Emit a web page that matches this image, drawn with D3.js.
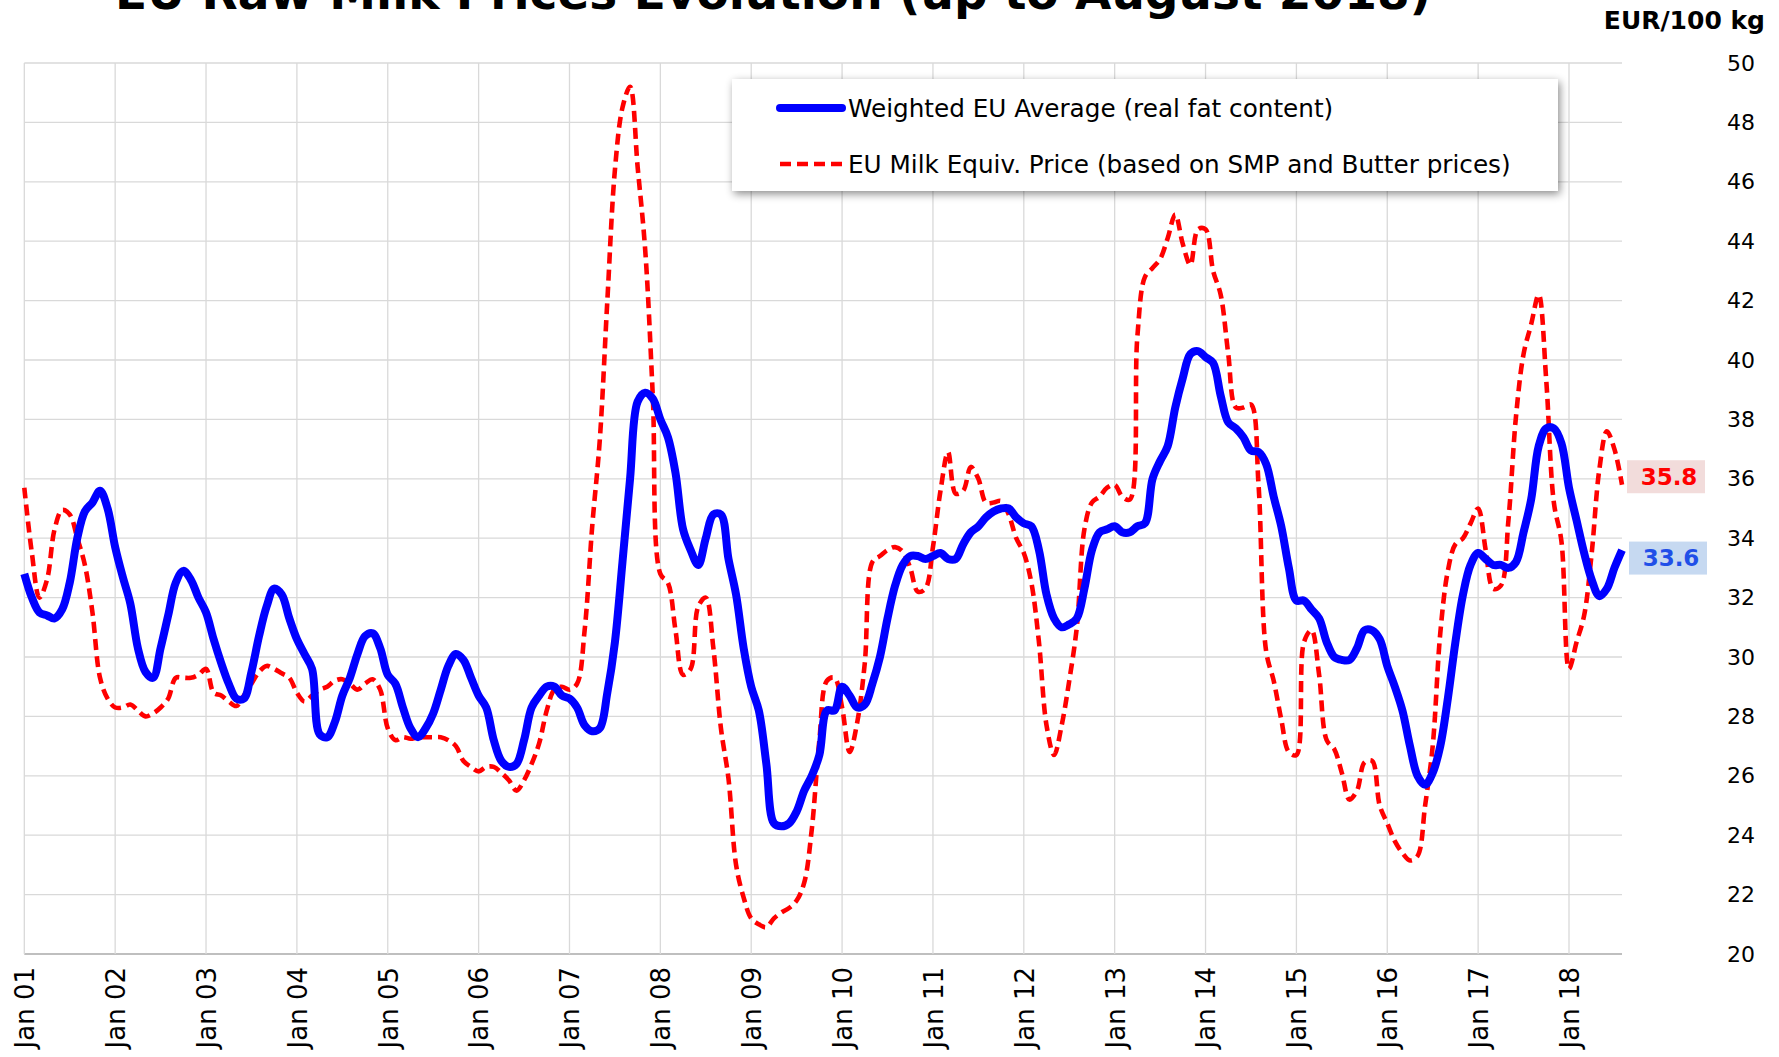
<!DOCTYPE html>
<html>
<head>
<meta charset="utf-8">
<script src="https://cdn.jsdelivr.net/npm/d3@7/dist/d3.min.js"></script>
<style>
  body { margin: 0; background: #fff; }
  text { font-family: "DejaVu Sans", Verdana, sans-serif; }
</style>
</head>
<body>
<svg id="chart" width="1779" height="1057"></svg>
<script>
// monthly values, Jan 2001 .. Aug 2018 (EUR/100 kg)
var weightedAvg = [
  32.8, 32.0, 31.5, 31.4, 31.3, 31.6, 32.5, 34.0, 34.9, 35.2, 35.6, 35.0,
  33.7, 32.7, 31.8, 30.3, 29.5, 29.3, 30.3, 31.4, 32.5, 32.9, 32.6, 32.0,
  31.5, 30.6, 29.8, 29.1, 28.6, 28.6, 29.5, 30.7, 31.7, 32.3, 32.1, 31.3,
  30.6, 30.1, 29.6, 27.4, 27.3, 27.8, 28.7, 29.3, 30.1, 30.7, 30.8, 30.3,
  29.4, 29.1, 28.3, 27.6, 27.3, 27.6, 28.1, 28.9, 29.7, 30.1, 29.9, 29.3,
  28.7, 28.3, 27.2, 26.5, 26.3, 26.4, 27.2, 28.3, 28.7, 29.0, 29.0, 28.7,
  28.6, 28.3, 27.7, 27.5, 27.6, 28.8, 30.5, 33.2, 36.0, 38.6, 38.9, 38.7,
  38.0, 37.4, 36.2, 34.3, 33.6, 33.1, 34.0, 34.8, 34.8, 33.3, 32.1, 30.3,
  29.0, 28.2, 26.4, 24.4, 24.3, 24.4, 24.8, 25.5, 26.0, 26.7, 28.2, 28.2,
  29.0, 28.7, 28.3, 28.4, 29.1, 30.0, 31.3, 32.4, 33.1, 33.4, 33.4, 33.3,
  33.4, 33.5, 33.3, 33.3, 33.8, 34.2, 34.4, 34.7, 34.9, 35.0, 35.0, 34.7,
  34.5, 34.4, 33.6, 32.1, 31.3, 31.0, 31.1, 31.3, 32.3, 33.6, 34.2, 34.3,
  34.4, 34.2, 34.2, 34.4, 34.5, 36.0, 36.6, 37.1, 38.4, 39.4, 40.2, 40.3,
  40.1, 39.9, 38.8, 37.9, 37.7, 37.4, 36.95, 36.9, 36.5, 35.4, 34.4, 33.0,
  31.9, 31.9, 31.6, 31.3, 30.5, 30.0, 29.9, 29.9, 30.3, 30.9, 30.9, 30.6,
  29.7, 29.0, 28.2, 27.0, 26.0, 25.7, 26.1, 27.0, 28.6, 30.5, 32.1, 33.1,
  33.5, 33.3, 33.1, 33.1, 33.0, 33.2, 34.2, 35.3, 37.1, 37.7, 37.7, 37.2,
  35.7, 34.6, 33.5, 32.6, 32.05, 32.3, 33.0, 33.6
];

var milkEquiv = [
  35.7, 33.5, 32.0, 32.6, 34.3, 34.95, 34.8, 34.0, 33.1, 31.5, 29.3, 28.6,
  28.3, 28.3, 28.4, 28.2, 28.0, 28.1, 28.3, 28.6, 29.3, 29.3, 29.3, 29.4,
  29.6, 28.8, 28.7, 28.5, 28.35, 28.7, 29.1, 29.5, 29.7, 29.6, 29.45, 29.3,
  28.8, 28.5, 28.7, 28.9, 29.0, 29.2, 29.25, 29.1, 28.9, 29.1, 29.25, 28.9,
  27.6, 27.2, 27.3, 27.25, 27.3, 27.3, 27.3, 27.3, 27.2, 27.0, 26.5, 26.3,
  26.15, 26.3, 26.3, 26.1, 25.85, 25.5, 25.85, 26.4, 27.1, 28.2, 28.9, 29.0,
  28.9, 29.1, 30.9, 34.4, 37.3, 42.0, 46.4, 48.5, 49.2, 46.5, 43.7, 38.8,
  32.8, 32.5, 30.9, 29.4, 29.6, 31.7, 32.0, 30.3, 27.6, 25.9, 23.0, 21.9,
  21.2, 21.0, 20.9, 21.2, 21.4, 21.55, 21.8, 22.4, 24.2, 27.2, 29.2, 29.3,
  28.3, 26.8, 27.8, 29.8, 33.2, 33.4, 33.6, 33.7, 33.55, 33.0, 32.2, 32.3,
  33.7, 35.6, 36.9, 35.5, 35.6, 36.4, 36.0, 35.2, 35.2, 35.25, 34.8, 34.0,
  33.5, 32.5, 30.5, 27.7, 26.7, 27.7, 29.2, 31.0, 34.3, 35.2, 35.4, 35.7,
  35.8, 35.4, 35.3, 40.8, 42.8, 43.1, 43.4, 44.1, 44.9, 43.9, 43.2, 44.4,
  44.4, 43.0, 42.2, 40.2, 38.4, 38.4, 38.5, 35.8, 30.2, 29.2, 27.9, 26.8,
  26.7, 30.5, 30.9, 29.4, 27.2, 26.9, 26.1, 25.2, 25.5, 26.45, 26.5, 25.0,
  24.4, 23.8, 23.4, 23.15, 23.3, 25.0, 27.0, 30.8, 32.9, 33.8, 34.0, 34.5,
  35.0, 33.6, 32.3, 32.4, 34.6, 38.1, 40.2, 41.2, 42.2, 39.3, 35.2, 33.9,
  29.6, 30.5, 31.4, 33.5, 36.3, 37.6, 37.0, 35.8
];

var yearLabels = ["Jan 01", "Jan 02", "Jan 03", "Jan 04", "Jan 05", "Jan 06",
  "Jan 07", "Jan 08", "Jan 09", "Jan 10", "Jan 11", "Jan 12", "Jan 13",
  "Jan 14", "Jan 15", "Jan 16", "Jan 17", "Jan 18"];

var yTicks = d3.range(20, 51, 2);

var seriesNames = ["Weighted EU Average (real fat content)",
  "EU Milk Equiv. Price (based on SMP and Butter prices)"];

var svg = d3.select("#chart"),
    width = +svg.attr("width"),
    height = +svg.attr("height")

var x = d3.scaleLinear().domain([0, weightedAvg.length - 1]).range([24.3, 1622])
var y = d3.scaleLinear().domain([20, 50]).range([954, 63])

var defs = svg.append("defs")
var shadow = defs.append("filter").attr("id", "shadow")
  .attr("x", "-5%").attr("y", "-20%").attr("width", "110%").attr("height", "150%")
shadow.append("feDropShadow")
  .attr("dx", 2).attr("dy", 3).attr("stdDeviation", 4)
  .attr("flood-color", "#000").attr("flood-opacity", 0.45)

// title (top is cut by the edge, as in the original)
svg.append("text")
  .attr("x", 773).attr("y", 9)
  .attr("text-anchor", "middle")
  .style("font-weight", "bold").style("font-size", "47px")
  .text("EU Raw Milk Prices Evolution (up to  August 2018)")

svg.append("text")
  .attr("x", 1765).attr("y", 29)
  .attr("text-anchor", "end")
  .style("font-weight", "bold").style("font-size", "25px")
  .text("EUR/100 kg")

// grid
var grid = svg.append("g").attr("class", "grid")
grid.selectAll(".hline").data(yTicks).enter().append("line")
  .attr("x1", x.range()[0]).attr("x2", x.range()[1])
  .attr("y1", function(d) { return y(d) }).attr("y2", function(d) { return y(d) })
  .attr("stroke", function(d) { return d === 20 ? "#bfbfbf" : "#d9d9d9" })
  .attr("stroke-width", function(d) { return d === 20 ? 2 : 1.3 })

var yearIdx = yearLabels.map(function(d, i) { return i * 12 })
grid.selectAll(".vline").data(yearIdx).enter().append("line")
  .attr("x1", function(d) { return x(d) }).attr("x2", function(d) { return x(d) })
  .attr("y1", y(50)).attr("y2", y(20))
  .attr("stroke", "#d9d9d9").attr("stroke-width", 1.3)

// axes
var yAxis = svg.append("g")
  .attr("transform", "translate(1727,0)")
  .call(d3.axisRight(y).tickValues(yTicks).tickSize(0).tickPadding(0))
yAxis.select(".domain").remove()
yAxis.selectAll("text").style("font-size", "22px").attr("fill", "#000")
  .attr("text-anchor", "start")

var xAxis = svg.append("g")
  .attr("transform", "translate(0," + y(20) + ")")
  .call(d3.axisBottom(x).tickValues(yearIdx)
    .tickFormat(function(d, i) { return yearLabels[i] }).tickSize(0))
xAxis.select(".domain").remove()
xAxis.selectAll("text")
  .style("font-size", "26px").attr("fill", "#000")
  .attr("text-anchor", "end")
  .attr("transform", "rotate(-90)")
  .attr("x", -13).attr("y", 0).attr("dy", "0.36em")

// lines
var line = d3.line()
  .x(function(d, i) { return x(i) })
  .y(function(d) { return y(d) })
  .curve(d3.curveCatmullRom.alpha(0.5))

svg.append("path").datum(milkEquiv)
  .attr("d", line).attr("fill", "none")
  .attr("stroke", "#ff0000").attr("stroke-width", 4.6)
  .attr("stroke-dasharray", "11,6")

svg.append("path").datum(weightedAvg)
  .attr("d", line).attr("fill", "none")
  .attr("stroke", "#0000ff").attr("stroke-width", 8)
  .attr("stroke-linejoin", "round")

// legend
var legend = svg.append("g").attr("transform", "translate(732,79)")
legend.append("rect").attr("width", 826).attr("height", 112)
  .attr("fill", "#fff").attr("filter", "url(#shadow)")
legend.append("line").attr("x1", 48).attr("x2", 110).attr("y1", 29).attr("y2", 29)
  .attr("stroke", "#0000ff").attr("stroke-width", 8).attr("stroke-linecap", "round")
legend.append("line").attr("x1", 48).attr("x2", 110).attr("y1", 85).attr("y2", 85)
  .attr("stroke", "#ff0000").attr("stroke-width", 4.6).attr("stroke-dasharray", "11,6")
legend.selectAll(".ltext").data(seriesNames).enter().append("text")
  .attr("x", 116).attr("y", function(d, i) { return 29 + i * 56 })
  .attr("dy", "0.36em").style("font-size", "24.7px").attr("fill", "#000")
  .text(function(d) { return d })

// last value labels
var lastRed = milkEquiv[milkEquiv.length - 1],
    lastBlue = weightedAvg[weightedAvg.length - 1]
var tags = [
  { v: lastRed, off: -8, fill: "#f2dcdb", color: "#ff0000", x0: 1627 },
  { v: lastBlue, off: 8, fill: "#c6d9f1", color: "#1f4fe8", x0: 1629 }
]
var tag = svg.selectAll(".tag").data(tags).enter().append("g")
  .attr("transform", function(d) { return "translate(" + d.x0 + "," + (y(d.v) + d.off) + ")" })
tag.append("rect").attr("x", 0).attr("y", -16.5).attr("width", 78).attr("height", 33)
  .attr("fill", function(d) { return d.fill })
tag.append("text").attr("x", 42).attr("dy", "0.36em").attr("text-anchor", "middle")
  .style("font-size", "23px").style("font-weight", "bold")
  .attr("fill", function(d) { return d.color })
  .text(function(d) { return d.v.toFixed(1) })
</script>
</body>
</html>
